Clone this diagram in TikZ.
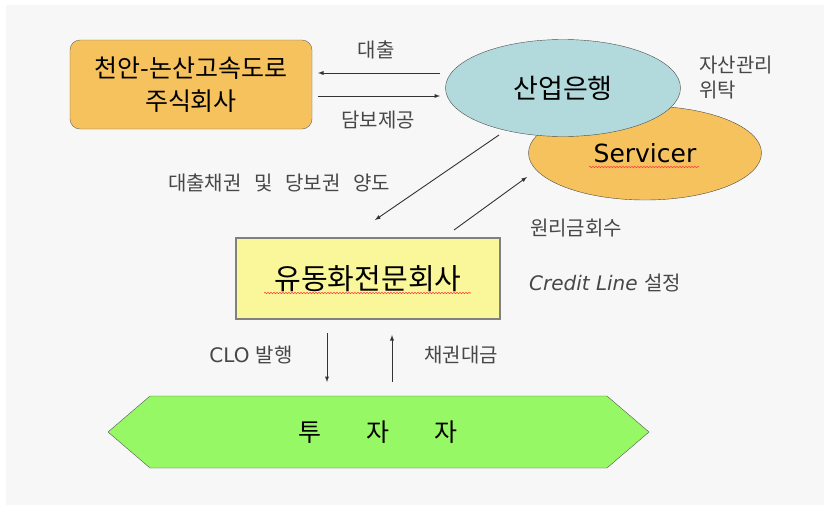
\documentclass[tikz,border=0pt]{standalone}
\usepackage{fontspec}
\setmainfont{DejaVu Sans}
\newfontfamily\kr[WordSpace=2.8]{Noto Sans CJK KR}
\usetikzlibrary{shapes.geometric,decorations.pathmorphing}
\definecolor{paper}{HTML}{F7F7F7}
\definecolor{gold}{HTML}{F6C25E}
\definecolor{sky}{HTML}{B2DADD}
\definecolor{lemon}{HTML}{FAF69A}
\definecolor{lime}{HTML}{96F864}
\begin{document}
\begin{tikzpicture}[x=1pt,y=-1pt,>=latex]
		\tikzstyle{every edge}=[draw,color=black!80,line width=0.9pt]
		\tikzstyle{lbl}=[text=black!72,font=\kr\fontsize{20}{25}\selectfont]
		\tikzstyle{wavy}=[red!75,line width=0.6pt,decorate,decoration={snake,amplitude=0.7pt,segment length=3pt}]
		\useasboundingbox (0,0) rectangle (828,507);
		\fill[paper] (6,5) rectangle (824,505);

		\node (road) at (191,84.5) [draw=black!60,fill=gold,rounded corners=10pt,minimum width=242pt,minimum height=89pt,align=center,font=\kr\fontsize{25}{33}\selectfont] {천안-논산고속도로\\주식회사};
		\node (svc) at (645,153) [ellipse,draw=black!70,fill=gold,minimum width=233pt,minimum height=94pt,font=\fontsize{25}{30}\selectfont] {Servicer};
		\node (bank) at (563,88) [ellipse,draw=black!70,fill=sky,minimum width=235pt,minimum height=97pt,font=\kr\fontsize{27}{30}\selectfont] {산업은행};
		\node (spv) at (368,278.5) [draw=black!50,line width=1.2pt,fill=lemon,minimum width=264pt,minimum height=81pt,font=\kr\fontsize{29}{32}\selectfont] {유동화전문회사};
		\draw[black!65,fill=lime] (108,432) -- (150,396) -- (607,396) -- (649,432) -- (607,468) -- (150,468) -- cycle;
		\node (inv) at (378,432) [font=\kr\fontsize{25}{30}\selectfont] {투\hspace{45pt}자\hspace{45pt}자};

		\draw[wavy] (264,293) -- (471,293);
		\draw[wavy] (589,167) -- (699,167);

		\node (loan) at (376,50) [lbl] {대출};
		\node (pledge) at (378,120) [lbl] {담보제공};
		\node (transfer) at (279,183) [lbl] {대출채권 및 당보권 양도};
		\node (entrust) at (736,78) [lbl,align=left] {자산관리\\위탁};
		\node (collect) at (576,228) [lbl] {원리금회수};
		\node (credit) at (605,283) [lbl] {\textrm{\itshape Credit Line }설정};
		\node (issue) at (251,355) [lbl] {\textrm{CLO }발행};
		\node (price) at (461,355) [lbl] {채권대금};

		\coordinate (a1) at (440,73);
		\coordinate (b1) at (318,73);
		\coordinate (a2) at (318,96);
		\coordinate (b2) at (440,96);
		\coordinate (a3) at (499,135);
		\coordinate (b3) at (375,220);
		\coordinate (a4) at (454,230);
		\coordinate (b4) at (527,177);
		\coordinate (a5) at (327,333);
		\coordinate (b5) at (327,382);
		\coordinate (a6) at (392,382);
		\coordinate (b6) at (392,335);
		\path [->] (a1) edge (b1);
		\path [->] (a2) edge (b2);
		\path [->] (a3) edge (b3);
		\path [->] (a4) edge (b4);
		\path [->] (a5) edge (b5);
		\path [->] (a6) edge (b6);
	\end{tikzpicture}
\end{document}
